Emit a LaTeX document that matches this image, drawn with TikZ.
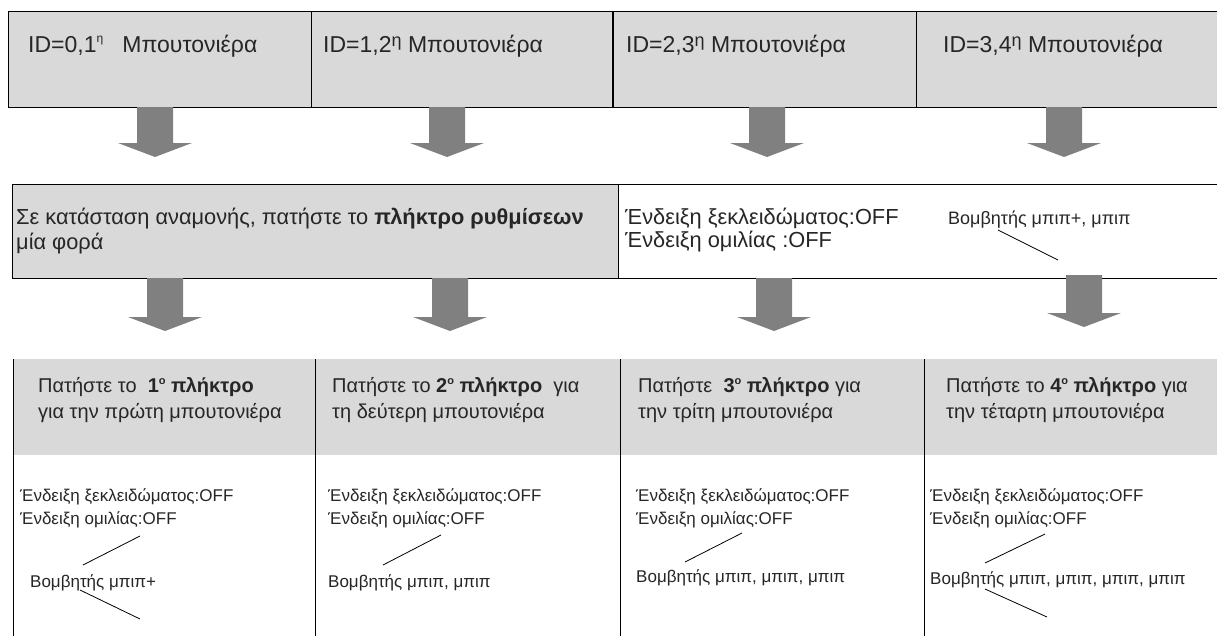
\documentclass[tikz,border=0pt]{standalone}
\usepackage{fontspec}
\setmainfont{Liberation Sans}
\definecolor{cellgray}{HTML}{D9D9D9}
\definecolor{arrowgray}{HTML}{808080}
\tikzset{
  cell/.style={draw=black, line width=0.8pt, fill=cellgray, anchor=north west, inner sep=0pt},
  wcell/.style={draw=black, line width=0.8pt, fill=white, anchor=north west, inner sep=0pt},
  txt/.style={anchor=base west, inner sep=0pt, text=black!85},
  topf/.style={font=\fontsize{23}{26}\selectfont},
  midf/.style={font=\fontsize{21.8}{24}\selectfont},
  hdrf/.style={font=\fontsize{20}{22}\selectfont},
  bodyf/.style={font=\fontsize{17}{20}\selectfont},
  buzf/.style={font=\fontsize{18}{20}\selectfont},
  arrowc/.style={fill=arrowgray},
  thin line/.style={draw=black, line width=0.8pt}
}
\newcommand\blockarrow[4]{%
  \coordinate (#1) at (#2,#3);
  \fill[arrowc] (#1) ++(-18,0) -- ++(36,0) -- ++(0,#4) -- ++(19,0) -- ++(-37,14) -- ++(-37,-14) -- ++(19,0) -- cycle;}
\newcommand\ordo{\raisebox{0.7ex}{\fontsize{11}{11}\selectfont o}}
\begin{document}
\begin{tikzpicture}[x=1pt,y=-1pt]
\useasboundingbox (0,0) rectangle (1217,635);
\clip (0,0) rectangle (1217,635);
% top row
\node[cell, minimum width=303pt, minimum height=96pt] (t1) at (8,11) {};
\node[cell, minimum width=302pt, minimum height=96pt] (t2) at (311,11) {};
\node[cell, minimum width=303pt, minimum height=96pt] (t3) at (613,11) {};
\node[cell, minimum width=330pt, minimum height=96pt] (t4) at (916,11) {};
\draw[line width=1.8pt] (t3.north west) -- (t3.south west);
\node[txt, topf] (t1x) at (28,52) {ID=0,1\raisebox{0.75ex}{\fontsize{12}{12}\selectfont η}\ \ \ Μπουτονιέρα};
\node[txt, topf] (t2x) at (323,52) {ID=1,2\raisebox{0.45ex}{\fontsize{18}{18}\selectfont η} Μπουτονιέρα};
\node[txt, topf] (t3x) at (626,52) {ID=2,3\raisebox{0.45ex}{\fontsize{18}{18}\selectfont η} Μπουτονιέρα};
\node[txt, topf] (t4x) at (943,52) {ID=3,4\raisebox{0.45ex}{\fontsize{18}{18}\selectfont η} Μπουτονιέρα};
% arrows row 1
\blockarrow{a1}{155}{107}{36}
\blockarrow{a2}{447}{107}{36}
\blockarrow{a3}{767}{107}{36}
\blockarrow{a4}{1064}{107}{36}
% middle row
\node[cell, minimum width=606pt, minimum height=94pt] (m1) at (12,184) {};
\node[wcell, minimum width=630pt, minimum height=94pt] (m2) at (618,184) {};
\node[txt, midf] (m1a) at (16,224) {Σε κατάσταση αναμονής, πατήστε το \textbf{πλήκτρο ρυθμίσεων}};
\node[txt, midf] (m1b) at (16,249) {μία φορά};
\node[txt, midf] (m2a) at (625,224) {Ένδειξη ξεκλειδώματος:OFF};
\node[txt, midf] (m2b) at (625,247) {Ένδειξη ομιλίας :OFF};
\node[txt, buzf] (m2c) at (948,224) {Βομβητής μπιπ+, μπιπ};
\coordinate (m2l1) at (998,230);
\coordinate (m2l2) at (1058,260);
\draw[thin line] (m2l1) -- (m2l2);
% arrows row 2
\blockarrow{b1}{165}{278}{39}
\blockarrow{b2}{450}{278}{39}
\blockarrow{b3}{774}{278}{39}
\blockarrow{b4}{1084}{275}{38}
% bottom table
\node[cell, minimum width=302pt, minimum height=95pt] (h1) at (13,359) {};
\node[cell, minimum width=305pt, minimum height=95pt] (h2) at (315,359) {};
\node[cell, minimum width=304pt, minimum height=95pt] (h3) at (620,359) {};
\node[cell, minimum width=320pt, minimum height=95pt] (h4) at (924,359) {};
\node[wcell, minimum width=302pt, minimum height=200pt] (c1) at (13,454) {};
\node[wcell, minimum width=305pt, minimum height=200pt] (c2) at (315,454) {};
\node[wcell, minimum width=304pt, minimum height=200pt] (c3) at (620,454) {};
\node[wcell, minimum width=320pt, minimum height=200pt] (c4) at (924,454) {};
\draw[line width=0.8pt] (h1.north west) -- (h4.north east);
\foreach \n in {h1,h2,h3,h4} {\fill[cellgray] ([shift={(0.4pt,-0.4pt)}]\n.north west) rectangle ([shift={(-0.4pt,0pt)}]\n.south east);}
\draw[line width=0.8pt] (h1.north west) -- (c1.south west);
\draw[line width=0.8pt] (h2.north west) -- (c2.south west);
\draw[line width=0.8pt] (h3.north west) -- (c3.south west);
\draw[line width=0.8pt] (h4.north west) -- (c4.south west);
% header texts
\node[txt, hdrf] (h1a) at (38,392) {Πατήστε το\ \ \textbf{1\ordo\ πλήκτρο}};
\node[txt, hdrf] (h1b) at (38,418) {για την πρώτη μπουτονιέρα};
\node[txt, hdrf] (h2a) at (332,392) {Πατήστε το \textbf{2\ordo\ πλήκτρο}\ \ για};
\node[txt, hdrf] (h2b) at (332,418) {τη δεύτερη μπουτονιέρα};
\node[txt, hdrf] (h3a) at (638,392) {Πατήστε\ \ \textbf{3\ordo\ πλήκτρο} για};
\node[txt, hdrf] (h3b) at (638,418) {την τρίτη μπουτονιέρα};
\node[txt, hdrf] (h4a) at (946,392) {Πατήστε το \textbf{4\ordo\ πλήκτρο} για};
\node[txt, hdrf] (h4b) at (946,418) {την τέταρτη μπουτονιέρα};
% body texts
\foreach \n/\x in {1/20, 2/328, 3/636, 4/930} {
  \node[txt, bodyf] (e\n a) at (\x,501) {Ένδειξη ξεκλειδώματος:OFF};
  \node[txt, bodyf] (e\n b) at (\x,524) {Ένδειξη ομιλίας:OFF};
}
\node[txt, bodyf] (z1) at (30,587) {Βομβητής μπιπ+};
\node[txt, bodyf] (z2) at (328,587) {Βομβητής μπιπ, μπιπ};
\node[txt, bodyf] (z3) at (636,582) {Βομβητής μπιπ, μπιπ, μπιπ};
\node[txt, bodyf] (z4) at (930,584) {Βομβητής μπιπ, μπιπ, μπιπ, μπιπ};
% callout lines
\coordinate (l1a) at (140,536); \coordinate (l1b) at (83,565);
\coordinate (l1c) at (80,590);  \coordinate (l1d) at (140,619);
\coordinate (l2a) at (441,535); \coordinate (l2b) at (383,565);
\coordinate (l3a) at (742,533); \coordinate (l3b) at (685,562);
\coordinate (l4a) at (1045,534); \coordinate (l4b) at (985,563);
\coordinate (l4c) at (985,589); \coordinate (l4d) at (1047,617);
\draw[thin line] (l1a) -- (l1b);
\draw[thin line] (l1c) -- (l1d);
\draw[thin line] (l2a) -- (l2b);
\draw[thin line] (l3a) -- (l3b);
\draw[thin line] (l4a) -- (l4b);
\draw[thin line] (l4c) -- (l4d);
\end{tikzpicture}
\end{document}
